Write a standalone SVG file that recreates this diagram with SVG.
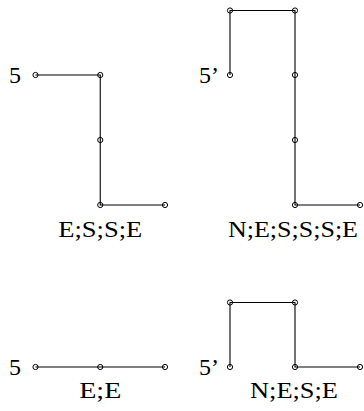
<svg xmlns="http://www.w3.org/2000/svg" width="364" height="411" viewBox="0 0 364 411">
<style>
.n{fill:none;stroke:#000;stroke-width:1}
.c{fill:none;stroke:#000;stroke-width:1.1}
.t{font-size:24px;fill:#000}
.m{text-anchor:middle}
</style>
<rect width="364" height="411" fill="#fff"/>
<g id="connectors">
<polyline class="c" points="35.5,75 100.25,75 100.25,205 165,205"/>
<polyline class="c" points="230,75 230,10.5 295,10.5 295,205 360,205"/>
<polyline class="c" points="35.5,367 165,367"/>
<polyline class="c" points="230,367 230,302.5 295,302.5 295,367 360,367"/>
</g>
<g id="a1"><circle class="n" cx="35.5" cy="75" r="2.6"/></g>
<g id="a2"><circle class="n" cx="100.25" cy="75" r="2.6"/></g>
<g id="a3"><circle class="n" cx="100.25" cy="140" r="2.6"/></g>
<g id="a4"><circle class="n" cx="100.25" cy="205" r="2.6"/></g>
<g id="a5"><circle class="n" cx="165" cy="205" r="2.6"/></g>
<g id="b1"><circle class="n" cx="230" cy="75" r="2.6"/></g>
<g id="b2"><circle class="n" cx="230" cy="10.5" r="2.6"/></g>
<g id="b3"><circle class="n" cx="295" cy="10.5" r="2.6"/></g>
<g id="b4"><circle class="n" cx="295" cy="75" r="2.6"/></g>
<g id="b5"><circle class="n" cx="295" cy="140" r="2.6"/></g>
<g id="b6"><circle class="n" cx="295" cy="205" r="2.6"/></g>
<g id="b7"><circle class="n" cx="360" cy="205" r="2.6"/></g>
<g id="c1"><circle class="n" cx="35.5" cy="367" r="2.6"/></g>
<g id="c2"><circle class="n" cx="100.25" cy="367" r="2.6"/></g>
<g id="c3"><circle class="n" cx="165" cy="367" r="2.6"/></g>
<g id="d1"><circle class="n" cx="230" cy="367" r="2.6"/></g>
<g id="d2"><circle class="n" cx="230" cy="302.5" r="2.6"/></g>
<g id="d3"><circle class="n" cx="295" cy="302.5" r="2.6"/></g>
<g id="d4"><circle class="n" cx="295" cy="367" r="2.6"/></g>
<g id="d5"><circle class="n" cx="360" cy="367" r="2.6"/></g>
<g id="labels" font-family="'Liberation Serif', 'DejaVu Serif', serif">
<text class="t" x="9" y="83">5</text>
<text class="t" x="199" y="83">5’</text>
<text class="t" x="9" y="375">5</text>
<text class="t" x="199" y="375">5’</text>
<text class="t m" x="100.25" y="237" textLength="84" lengthAdjust="spacingAndGlyphs">E;S;S;E</text>
<text class="t m" x="293" y="237" textLength="130" lengthAdjust="spacingAndGlyphs">N;E;S;S;S;E</text>
<text class="t m" x="100.25" y="397.5" textLength="42" lengthAdjust="spacingAndGlyphs">E;E</text>
<text class="t m" x="294" y="397.5" textLength="88" lengthAdjust="spacingAndGlyphs">N;E;S;E</text>
</g>
</svg>
